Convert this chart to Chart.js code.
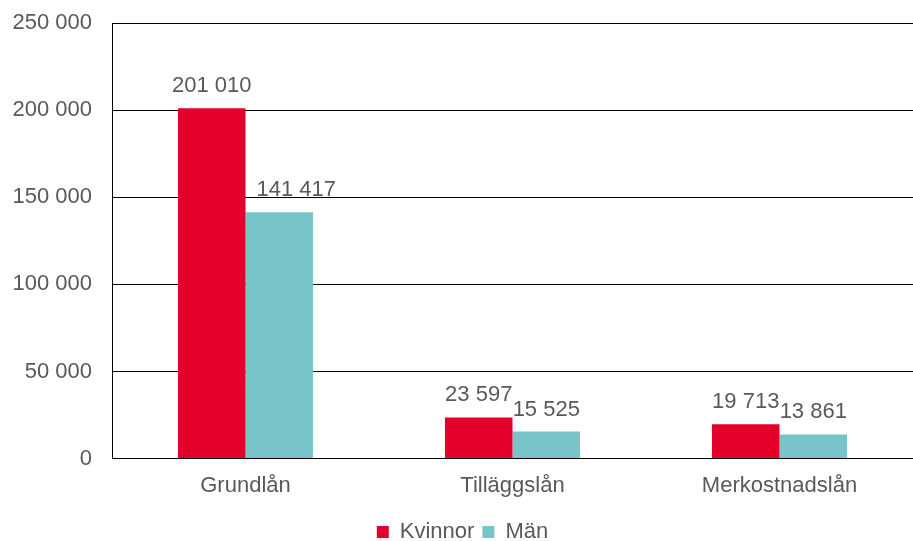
<!DOCTYPE html>
<html>
<head>
<meta charset="utf-8">
<script src="https://cdn.jsdelivr.net/npm/chart.js"></script>
<style>
  html, body { margin: 0; padding: 0; background: #fff; }
  canvas { display: block; }
</style>
</head>
<body>
<canvas id="chart" width="913" height="541"></canvas>
<script>
const categories = ["Grundlån", "Tilläggslån", "Merkostnadslån"];
const kvinnor = [201010, 23597, 19713];
const man = [141417, 15525, 13861];
const yTicks = [0, 50000, 100000, 150000, 200000, 250000];

const textColor = "#595959";
const fontFamily = "'Liberation Sans', Arial, sans-serif";

function fmt(v) {
  return String(v).replace(/\B(?=(\d{3})+(?!\d))/g, " ");
}

// draw the value above each bar; nudge it right if the bar to the left is in the way
const valueLabels = {
  id: "valueLabels",
  afterDatasetsDraw(chart) {
    const ctx = chart.ctx;
    ctx.save();
    ctx.font = "22px " + fontFamily;
    ctx.fillStyle = textColor;
    ctx.textBaseline = "alphabetic";
    chart.data.datasets.forEach((ds, i) => {
      chart.getDatasetMeta(i).data.forEach((bar, j) => {
        const txt = fmt(ds.data[j]);
        const w = ctx.measureText(txt).width;
        const y = bar.y - 16;
        let left = bar.x - w / 2;
        if (i > 0) {
          const prev = chart.getDatasetMeta(i - 1).data[j];
          const barLeft = bar.x - bar.width / 2;
          if (prev.y < y && left < barLeft + 11) left = barLeft + 11;
        }
        ctx.textAlign = "left";
        ctx.fillText(txt, left, y);
      });
    });
    ctx.restore();
  }
};

new Chart(document.getElementById("chart").getContext("2d"), {
  type: "bar",
  data: {
    labels: categories,
    datasets: [
      { label: "Kvinnor", data: kvinnor, backgroundColor: "#E4002B" },
      { label: "Män", data: man, backgroundColor: "#77C5C8" }
    ]
  },
  options: {
    responsive: false,
    animation: false,
    layout: { padding: { left: 12, top: 23, right: 0, bottom: -12 } },
    datasets: { bar: { categoryPercentage: 0.506, barPercentage: 1 } },
    plugins: {
      legend: {
        position: "bottom",
        labels: {
          boxWidth: 12,
          boxHeight: 12,
          color: textColor,
          font: { size: 22, family: fontFamily },
          padding: 8
        }
      },
      tooltip: { enabled: false }
    },
    scales: {
      x: {
        grid: { display: false, drawTicks: false },
        border: { display: true, color: "#000", width: 1 },
        ticks: { color: textColor, font: { size: 22, family: fontFamily }, padding: 14 }
      },
      y: {
        min: 0,
        max: 250000,
        afterBuildTicks(axis) {
          axis.ticks = yTicks.map(v => ({ value: v }));
        },
        afterFit(axis) {
          axis.width = 100;
          axis.paddingTop = 0;
        },
        grid: { color: "#000", lineWidth: 1, drawTicks: false },
        border: { display: true, color: "#000", width: 1 },
        ticks: {
          color: textColor,
          font: { size: 22, family: fontFamily },
          padding: 20,
          callback: v => fmt(v)
        }
      }
    }
  },
  plugins: [valueLabels]
});
</script>
</body>
</html>
